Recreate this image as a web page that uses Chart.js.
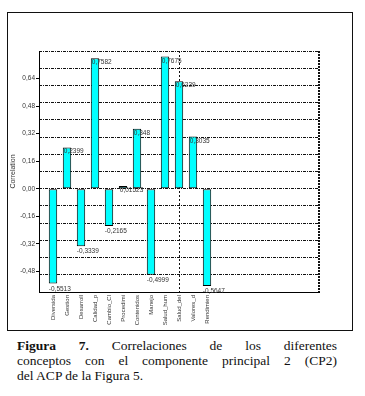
<!DOCTYPE html>
<html>
<head>
<meta charset="utf-8">
<script src="https://cdn.jsdelivr.net/npm/chart.js@4/dist/chart.umd.min.js"></script>
<style>
body{margin:0;background:#fff;width:365px;height:396px;position:relative;overflow:hidden}
#frame{position:absolute;left:7px;top:12px;width:344px;height:317px;border:1px solid #111}
#frame canvas{display:block}
#cap{position:absolute;left:17px;top:338px;width:320px;font-family:"Liberation Serif",serif;font-size:13.5px;line-height:15px;color:#111}
.j{text-align:justify;text-align-last:justify}
</style>
</head>
<body>
<div id="frame"><canvas id="chart" width="344" height="317"></canvas></div>
<div id="cap">
  <div class="j"><b>Figura 7.</b> Correlaciones de los diferentes</div>
  <div class="j">conceptos con el componente principal 2 (CP2)</div>
  <div>del ACP de la Figura 5.</div>
</div>
<script>
// CP2 correlations per concept
const categories = ['Diversida','Gestion','Desarroll','Calidad_p','Cambio_Cl','Procedimi','Contenidos','Manejo','Salud_hum','Salud_del','Valores_d','Rendimien'];
const values = [-0.5513, 0.2399, -0.3339, 0.7582, -0.2165, 0.01523, 0.348, -0.4999, 0.7675, 0.6239, 0.3035, -0.5647];
const yTickValues = [-0.48, -0.32, -0.16, 0, 0.16, 0.32, 0.48, 0.64];
const yMin = -0.6, yMax = 0.8;

const fmt = v => String(v).replace('.', ',');

// labels next to each bar end
const valueLabels = {
  id: 'valueLabels',
  afterDatasetsDraw(chart) {
    const ctx = chart.ctx;
    const meta = chart.getDatasetMeta(0);
    ctx.save();
    ctx.font = '6.5px "Liberation Sans", Arial, sans-serif';
    ctx.fillStyle = '#333';
    ctx.textBaseline = 'top';
    meta.data.forEach((bar, i) => {
      const left = bar.x - bar.width / 2;
      if (values[i] >= 0) ctx.fillText(fmt(values[i]), left + 1, bar.y + 1);
      else ctx.fillText(fmt(values[i]), left, bar.y + 2);
    });
    ctx.restore();
  }
};

// dotted right edge of the plot
const rightEdge = {
  id: 'rightEdge',
  afterDraw(chart) {
    const {ctx, chartArea} = chart;
    ctx.save();
    ctx.strokeStyle = '#111';
    ctx.lineWidth = 2;
    ctx.setLineDash([2, 1]);
    ctx.beginPath();
    ctx.moveTo(chartArea.right, chartArea.top);
    ctx.lineTo(chartArea.right, chartArea.bottom);
    ctx.stroke();
    ctx.restore();
  }
};

new Chart(document.getElementById('chart'), {
  type: 'bar',
  data: {
    datasets: [{
      data: categories.map((c, i) => ({x: i + 1, y: values[i]})),
      backgroundColor: '#00ffff',
      borderColor: '#000',
      borderWidth: 1,
      borderSkipped: false,
      barPercentage: 0.6,
      categoryPercentage: 1
    }]
  },
  options: {
    responsive: false,
    animation: false,
    layout: {padding: {left: 1, top: 38, right: 33, bottom: 0}},
    plugins: {legend: {display: false}, tooltip: {enabled: false}},
    scales: {
      x: {
        type: 'linear',
        min: 0, max: 20,
        offset: false,
        afterFit(s) { s.height = 38; },
        ticks: {
          stepSize: 1,
          autoSkip: false,
          maxRotation: 90, minRotation: 90,
          padding: 3,
          font: {family: '"Liberation Sans", Arial', size: 6},
          color: '#333',
          callback: v => categories[v - 1] || ''
        },
        grid: {
          offset: false,
          drawTicks: false,
          color: c => c.tick && c.tick.value === 10 ? '#111' : 'rgba(0,0,0,0)'
        },
        border: {display: true, color: '#000', width: 1, dash: [2, 2]}
      },
      y: {
        min: yMin, max: yMax,
        afterFit(s) { s.width = 30; },
        afterBuildTicks(s) { s.ticks = yTickValues.map(v => ({value: v})); },
        title: {display: true, text: 'Correlation', padding: 0, color: '#333',
          font: {family: '"Liberation Sans", Arial', size: 7}},
        ticks: {
          padding: 1,
          color: '#333',
          font: {family: '"Liberation Sans", Arial', size: 6.5},
          callback: v => v.toFixed(2).replace('.', ',')
        },
        grid: {drawOnChartArea: false, drawTicks: true, tickLength: 3, tickColor: '#000'},
        border: {display: true, color: '#000', width: 1}
      },
      yGrid: {
        position: 'left',
        min: yMin, max: yMax,
        afterFit(s) { s.width = 0; },
        ticks: {display: false, stepSize: 0.1},
        grid: {drawTicks: false, color: '#111', lineWidth: 1},
        border: {display: false, dash: [3, 1, 1, 1]}
      }
    }
  },
  plugins: [valueLabels, rightEdge]
});
</script>
</body>
</html>
